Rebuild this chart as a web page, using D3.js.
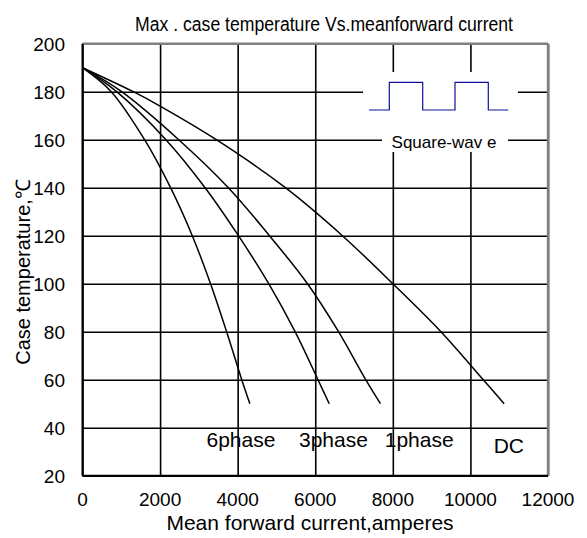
<!DOCTYPE html>
<html>
<head>
<meta charset="utf-8">
<script src="https://cdn.jsdelivr.net/npm/d3@7"></script>
<style>
  body { margin: 0; background: #fff; }
  svg { display: block; font-family: "Liberation Sans", Arial, sans-serif; }
</style>
</head>
<body>
<svg id="chart" width="587" height="538"></svg>
<script>
// curve data: [mean forward current (A), max case temperature (°C)]
const phase6 = [[0, 190], [740, 180], [1600, 160], [2270, 140], [2830, 120], [3300, 100], [3715, 80], [4105, 60], [4315, 50]];
const phase3 = [[0, 190], [880, 180], [2150, 160], [3160, 140], [4020, 120], [4800, 100], [5480, 80], [6070, 60], [6360, 50]];
const phase1 = [[0, 190], [1010, 180], [2480, 160], [3760, 140], [4820, 120], [5800, 100], [6600, 80], [7300, 60], [7680, 50]];
const dc = [[0, 190], [1310, 180], [2000, 174], [3450, 160], [5230, 140], [6700, 120], [8000, 100], [9240, 80], [10330, 60], [10870, 50]];

const xTicks = [0, 2000, 4000, 6000, 8000, 10000, 12000];
const yTicks = [20, 40, 60, 80, 100, 120, 140, 160, 180, 200];
const curveNames = ["6phase", "3phase", "1phase", "DC"];

const svg = d3.select("#chart");

// plot box in pixels
const box = { left: 82.5, right: 548, top: 43.7, bottom: 475.7 };

const x = d3.scaleLinear().domain([0, 12000]).range([box.left, box.right]);
const y = d3.scaleLinear().domain([20, 200]).range([box.bottom, box.top]);

// grid
svg.append("g")
  .attr("transform", `translate(0, ${box.bottom})`)
  .call(d3.axisBottom(x).tickValues(xTicks).tickSize(-(box.bottom - box.top)).tickFormat(""))
  .call(g => g.select(".domain").remove())
  .call(g => g.selectAll("line").attr("stroke", "#000").attr("stroke-width", 1.6));

svg.append("g")
  .attr("transform", `translate(${box.left}, 0)`)
  .call(d3.axisLeft(y).tickValues(yTicks).tickSize(-(box.right - box.left)).tickFormat(""))
  .call(g => g.select(".domain").remove())
  .call(g => g.selectAll("line").attr("stroke", "#000").attr("stroke-width", 1.6));

// frame: top/right grey, left/bottom black
svg.append("line").attr("x1", box.left).attr("x2", box.right).attr("y1", box.top).attr("y2", box.top)
  .attr("stroke", "#808080").attr("stroke-width", 2.4);
svg.append("line").attr("x1", box.right).attr("x2", box.right).attr("y1", box.top).attr("y2", box.bottom)
  .attr("stroke", "#808080").attr("stroke-width", 2.4);
svg.append("line").attr("x1", box.left).attr("x2", box.left).attr("y1", box.top).attr("y2", box.bottom)
  .attr("stroke", "#000").attr("stroke-width", 2);
svg.append("line").attr("x1", box.left).attr("x2", box.right).attr("y1", box.bottom).attr("y2", box.bottom)
  .attr("stroke", "#000").attr("stroke-width", 2);

// tick labels
svg.append("g").selectAll("text")
  .data(yTicks)
  .enter()
  .append("text")
  .text(d => d)
  .attr("x", 65)
  .attr("y", d => y(d) + 7)
  .attr("text-anchor", "end")
  .attr("font-size", "19px");

svg.append("g").selectAll("text")
  .data(xTicks)
  .enter()
  .append("text")
  .text(d => d)
  .attr("x", d => x(d))
  .attr("y", 506)
  .attr("text-anchor", "middle")
  .attr("font-size", "19px");

// square-wave inset (blanks the grid behind it)
svg.append("rect").attr("x", 363).attr("y", 72).attr("width", 155).attr("height", 48).attr("fill", "#fff");
svg.append("rect").attr("x", 382).attr("y", 118).attr("width", 126).attr("height", 34).attr("fill", "#fff");

const wave = [[369, 110], [389.3, 82.3], [422.7, 110], [455, 82.3], [488.3, 110], [508.3, 110]];
svg.append("path")
  .datum(wave)
  .attr("fill", "none")
  .attr("stroke", "#1010a0")
  .attr("stroke-width", 1.2)
  .attr("d", d3.line().curve(d3.curveStepAfter));

svg.append("text")
  .text("Square-wav e")
  .attr("x", 444)
  .attr("y", 148)
  .attr("text-anchor", "middle")
  .attr("font-size", "17px");

// curves
const line = d3.line()
  .curve(d3.curveCatmullRom.alpha(0.5))
  .x(d => x(d[0]))
  .y(d => y(d[1]));

svg.append("g")
  .selectAll("path")
  .data([phase6, phase3, phase1, dc])
  .enter()
  .append("path")
  .attr("fill", "none")
  .attr("stroke", "#000")
  .attr("stroke-width", 1.5)
  .attr("d", line);

// curve labels (anchored in data units)
const labelAt = [[4085, 32], [6470, 32], [8680, 32], [10990, 29.5]];
svg.append("g").selectAll("text")
  .data(curveNames)
  .enter()
  .append("text")
  .text(d => d)
  .attr("x", (d, i) => x(labelAt[i][0]))
  .attr("y", (d, i) => y(labelAt[i][1]))
  .attr("text-anchor", "middle")
  .attr("font-size", "21px");

// titles
svg.append("text")
  .text("Max . case temperature Vs.meanforward current")
  .attr("x", 324)
  .attr("y", 31)
  .attr("text-anchor", "middle")
  .attr("font-size", "20px")
  .attr("textLength", 378)
  .attr("lengthAdjust", "spacingAndGlyphs");

svg.append("text")
  .text("Mean  forward current,amperes")
  .attr("x", 310)
  .attr("y", 530)
  .attr("text-anchor", "middle")
  .attr("font-size", "21px");

svg.append("text")
  .text("Case temperature,℃")
  .attr("transform", "translate(30, 272) rotate(-90)")
  .attr("text-anchor", "middle")
  .attr("font-size", "20px");
</script>
</body>
</html>
